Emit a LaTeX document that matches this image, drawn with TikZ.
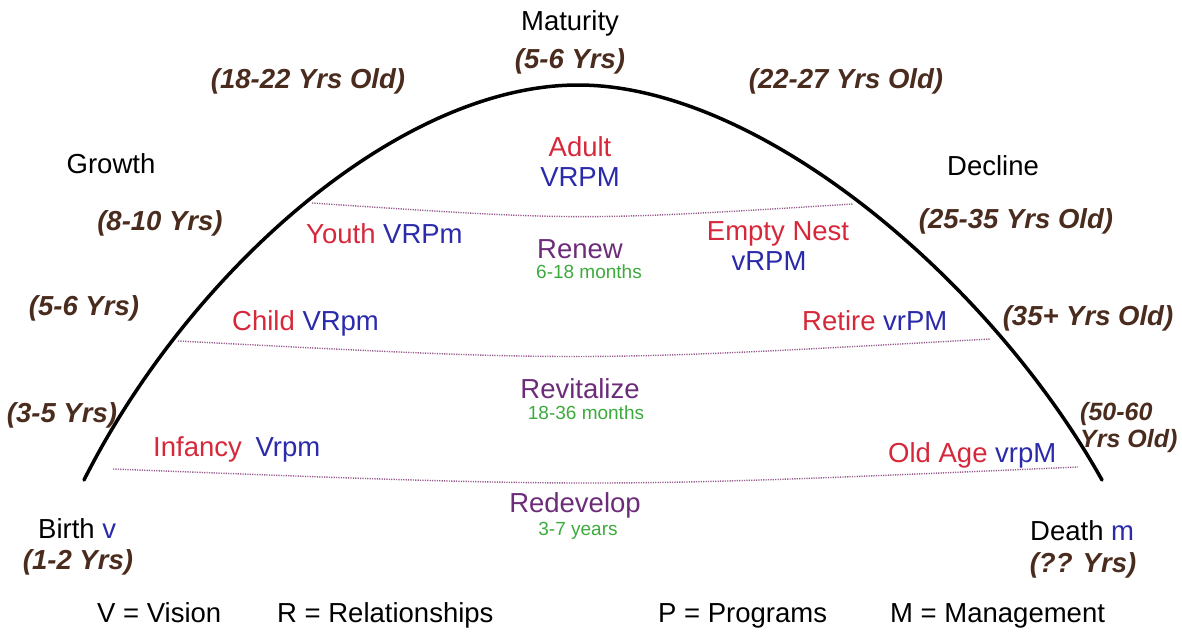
\documentclass[tikz,border=0pt]{standalone}
\usepackage{fontspec}
\setmainfont{Liberation Sans}
\definecolor{redc}{RGB}{214,40,58}
\definecolor{bluc}{RGB}{42,42,170}
\definecolor{purc}{RGB}{108,44,122}
\definecolor{grnc}{RGB}{60,170,60}
\definecolor{brnc}{RGB}{74,44,30}
\definecolor{dotc}{RGB}{150,90,140}
\tikzset{
  lbl/.style={inner sep=0pt, anchor=base, font=\fontsize{27.5}{30}\selectfont},
  lblw/.style={lbl, anchor=base west},
  age/.style={lbl, text=brnc, font=\fontsize{27.5}{30}\selectfont\bfseries\itshape},
  agew/.style={age, anchor=base west, font=\fontsize{25}{27}\selectfont\bfseries\itshape},
  stage/.style={lbl, text=redc},
  code/.style={lbl, text=bluc},
  phase/.style={lbl, text=purc},
  dur/.style={inner sep=0pt, anchor=base, text=grnc, font=\fontsize{19}{21}\selectfont},
  life/.style={line width=3.5pt, black, line cap=round},
  sep/.style={dotc, line width=1.4pt, dash pattern=on 1.2pt off 1.2pt}
}
\begin{document}
\begin{tikzpicture}[x=1pt,y=-1pt]
\useasboundingbox (0,0) rectangle (1182,632);
% life curve
\coordinate (birth) at (84,480);
\coordinate (peak) at (578,85);
\coordinate (death) at (1102,480);
\draw[life] (birth) .. controls (190,270) and (400,85) .. (peak)
  .. controls (760,85) and (990,280) .. (death);
% dotted separators
\coordinate (s1a) at (312,203); \coordinate (s1b) at (853,204);
\coordinate (s2a) at (178,341); \coordinate (s2b) at (990,339);
\coordinate (s3a) at (113,469); \coordinate (s3b) at (1078,467);
\draw[sep] (s1a) .. controls (580,221) .. (s1b);
\draw[sep] (s2a) .. controls (580,362) .. (s2b);
\draw[sep] (s3a) .. controls (600,488) .. (s3b);
% top
\node[lbl] (maturity) at (570,30) {Maturity};
\node[age] (mat) at (570,68) {(5-6 Yrs)};
\node[age] (a1822) at (308,88) {(18-22 Yrs Old)};
\node[age] (a2227) at (846,88) {(22-27 Yrs Old)};
\node[lbl] (growth) at (111,173) {Growth};
\node[lbl] (decline) at (993,175) {Decline};
% adult
\node[stage] (adult) at (580,156) {Adult};
\node[code] (adultc) at (580,186) {VRPM};
% row 2
\node[age] (a810) at (160,230) {(8-10 Yrs)};
\node[lblw] (youth) at (306,243) {\textcolor{redc}{Youth} \textcolor{bluc}{VRPm}};
\node[phase] (renew) at (580,258) {Renew};
\node[dur] (renewd) at (589,278) {6-18 months};
\node[stage] (empty) at (778,240) {Empty Nest};
\node[code] (emptyc) at (769,270) {vRPM};
\node[age] (a2535) at (1016,228) {(25-35 Yrs Old)};
% row 3
\node[age] (a56) at (84,315) {(5-6 Yrs)};
\node[lblw] (child) at (232,330) {\textcolor{redc}{Child} \textcolor{bluc}{VRpm}};
\node[lblw] (retire) at (802,330) {\textcolor{redc}{Retire} \textcolor{bluc}{vrPM}};
\node[age] (a35) at (1088,325) {(35+ Yrs Old)};
% row 4
\node[phase] (revit) at (580,398) {Revitalize};
\node[dur] (revitd) at (586,419) {18-36 months};
\node[age] (a35y) at (62,422) {(3-5 Yrs)};
\node[lblw] (infancy) at (153,456) {\textcolor{redc}{Infancy}\hspace{0.5em}\textcolor{bluc}{Vrpm}};
\node[agew] (a5060) at (1080,420) {(50-60};
\node[agew] (a5060b) at (1080,447) {Yrs Old)};
\node[lblw] (oldage) at (888,462) {\textcolor{redc}{Old Age} \textcolor{bluc}{vrpM}};
% bottom
\node[phase] (redev) at (575,512) {Redevelop};
\node[dur] (redevd) at (578,535) {3-7 years};
\node[lblw] (birthl) at (38,538) {Birth \textcolor{bluc}{v}};
\node[age] (a12) at (78,569) {(1-2 Yrs)};
\node[lblw] (deathl) at (1030,540) {Death \textcolor{bluc}{m}};
\node[age] (aqq) at (1083,572) {(?? Yrs)};
% legend
\node[lblw] (legv) at (97,622) {V = Vision};
\node[lblw] (legr) at (277,622) {R = Relationships};
\node[lblw] (legp) at (658,622) {P = Programs};
\node[lblw] (legm) at (890,622) {M = Management};
\end{tikzpicture}
\end{document}
